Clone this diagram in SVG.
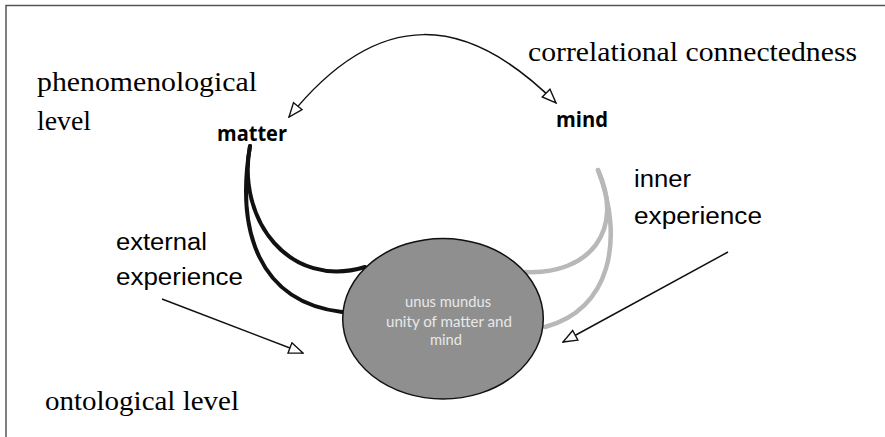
<svg xmlns="http://www.w3.org/2000/svg" width="885" height="437" viewBox="0 0 885 437">
<style>
.serif{font-family:"Liberation Serif","Times New Roman",serif;font-size:28px;fill:#000}
.sans{font-family:"Liberation Sans",Arial,sans-serif;font-size:23.5px;fill:#000}
.bold{font-family:"Open Sans","Lato",sans-serif;font-weight:700;font-size:21px;fill:#000}
.inner{font-family:"Lato","Open Sans",sans-serif;font-size:16px;fill:#e8e8e8;text-anchor:middle}
.conn{fill:none;stroke:#111;stroke-width:1.5}
.blk{fill:none;stroke:#111;stroke-width:4;stroke-linecap:round}
.gry{fill:none;stroke:#b8b8b8;stroke-width:4.5;stroke-linecap:round}
</style>
<defs>
<marker id="tri" viewBox="-1 -1 16 13" refX="14" refY="5.5" markerWidth="16" markerHeight="13" markerUnits="userSpaceOnUse" orient="auto-start-reverse">
<path d="M0,0 L14,5.5 L0,11 z" fill="#fff" stroke="#111" stroke-width="1.4"/>
</marker>
</defs>
<rect width="885" height="437" fill="#fff"/>
<g id="frame" fill="none" stroke="#555" stroke-width="1.5">
<path d="M6,437 V5.5 H885"/>
</g>
<g id="connectors">
<path class="conn" d="M289,117 C380,4 468,15 556,103" marker-start="url(#tri)" marker-end="url(#tri)"/>
<path class="conn" d="M162,299 L303,353" marker-end="url(#tri)"/>
<path class="conn" d="M728,252 L563,342" marker-end="url(#tri)"/>
<path class="blk" d="M250,146 C236,220 290,290 365,267"/>
<path class="blk" d="M250,146 C236,230 258,302 342,312"/>
<path class="gry" d="M598,170 C625,230 590,275 525,272"/>
<path class="gry" d="M598,170 C625,240 610,310 545,327"/>
</g>
<g id="unus-mundus">
<ellipse cx="443" cy="318.7" rx="100.3" ry="80.3" fill="#8f8f8f" stroke="#111" stroke-width="1.5"/>
<text class="inner" x="448" y="306.5" textLength="86" lengthAdjust="spacingAndGlyphs">unus mundus</text>
<text class="inner" x="449" y="327" textLength="126" lengthAdjust="spacingAndGlyphs">unity of matter and</text>
<text class="inner" x="446" y="345" textLength="32" lengthAdjust="spacingAndGlyphs">mind</text>
</g>
<g id="matter">
<text class="bold" x="217" y="141" textLength="70" lengthAdjust="spacingAndGlyphs">matter</text>
</g>
<g id="mind">
<text class="bold" x="556" y="127" textLength="52" lengthAdjust="spacingAndGlyphs">mind</text>
</g>
<g id="phenomenological-level">
<text class="serif" x="37" y="91" textLength="220" lengthAdjust="spacingAndGlyphs">phenomenological</text>
<text class="serif" x="37" y="130" textLength="54" lengthAdjust="spacingAndGlyphs">level</text>
</g>
<g id="correlational-connectedness">
<text class="serif" x="528" y="61" textLength="329" lengthAdjust="spacingAndGlyphs">correlational connectedness</text>
</g>
<g id="ontological-level">
<text class="serif" x="45" y="410" textLength="194" lengthAdjust="spacingAndGlyphs">ontological level</text>
</g>
<g id="external-experience">
<text class="sans" x="116" y="250" textLength="91" lengthAdjust="spacingAndGlyphs">external</text>
<text class="sans" x="116" y="285" textLength="127" lengthAdjust="spacingAndGlyphs">experience</text>
</g>
<g id="inner-experience">
<text class="sans" x="634" y="187" textLength="57" lengthAdjust="spacingAndGlyphs">inner</text>
<text class="sans" x="634" y="224" textLength="128" lengthAdjust="spacingAndGlyphs">experience</text>
</g>
</svg>
